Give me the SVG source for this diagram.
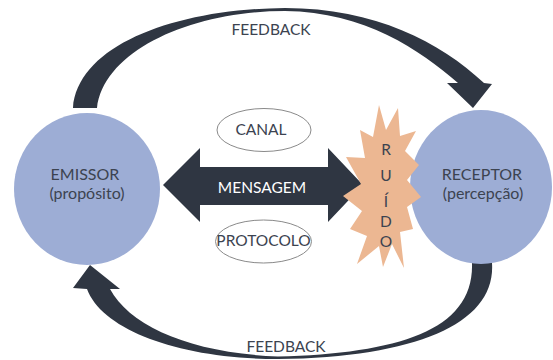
<svg xmlns="http://www.w3.org/2000/svg" width="553" height="360" viewBox="0 0 553 360">
  <style>
    .lbl { font-family: Lato, "Liberation Sans", Arial, sans-serif; font-size: 15.5px; text-anchor: middle; }
    .big { font-size: 16px; }
    .dark { fill: #3c4350; }
    .light { fill: #ffffff; }
    .party { fill: #9dadd5; }
    .pill { fill: #ffffff; stroke: #8a8a8a; stroke-width: 1; }
    .flow { fill: #2f3642; }
    .noise { fill: #ecb792; }
  </style>

  <rect width="553" height="360" fill="#ffffff"/>

  <!-- feedback loops -->
  <g id="connectors">
    <!-- upper feedback: emissor to receptor -->
    <path class="flow" d="M 73,108 C 78,45 175,9 285,8 C 375,8 440,42 484,83 L 492,84 L 473,108 L 447,83 L 458,83 C 420,50 365,12 285,11 C 192,11 104,50 97,108 Z"/>
    <!-- lower feedback: receptor to emissor -->
    <path class="flow" d="M 472,263 L 492,263 C 496,322 420,357 278,359 C 180,359 102,330 87,289 L 73,288 L 90,265 L 120,289 L 110,289 C 130,326 190,353 278,356.5 C 400,353 474,330 472,263 Z"/>
  </g>

  <g id="emissor">
    <ellipse class="party" cx="87" cy="189" rx="73" ry="76"/>
    <text class="lbl big dark" x="85" y="180">EMISSOR</text>
    <text class="lbl big dark" x="87" y="199">(propósito)</text>
  </g>

  <g id="receptor">
    <ellipse class="party" cx="481" cy="187" rx="71" ry="77"/>
    <text class="lbl big dark" x="482" y="180">RECEPTOR</text>
    <text class="lbl big dark" x="483" y="199">(percepção)</text>
  </g>

  <g id="mensagem">
    <polygon class="flow" points="163,185 200,148 200,167 328,167 328,148 363,185 328,222 328,205 200,205 200,222"/>
    <text class="lbl light" x="262" y="193">MENSAGEM</text>
  </g>

  <g id="ruido">
    <polygon class="noise" points="379,105 386,130 398,108 400,136 416,131 405,151 419,165 407,180 421,197 407,207 413,229 400,232 404,268 392,244 383,267 379,246 357,264 367,236 350,229 362,211 343,196 361,184 346,157 365,158 360,130 373,137"/>
    <text class="lbl dark" x="386" y="155">R</text>
    <text class="lbl dark" x="386" y="181">U</text>
    <text class="lbl dark" x="386" y="207">Í</text>
    <text class="lbl dark" x="386" y="227">D</text>
    <text class="lbl dark" x="386" y="247">O</text>
  </g>

  <g id="canal">
    <ellipse class="pill" cx="264" cy="130" rx="47" ry="21.5"/>
    <text class="lbl dark" x="261" y="135">CANAL</text>
  </g>

  <g id="protocolo">
    <ellipse class="pill" cx="263.5" cy="241.5" rx="48" ry="21.5"/>
    <text class="lbl dark" x="263.5" y="246">PROTOCOLO</text>
  </g>

  <g id="feedback-labels">
    <text class="lbl dark" x="271" y="35">FEEDBACK</text>
    <text class="lbl dark" x="286" y="352">FEEDBACK</text>
  </g>
</svg>
